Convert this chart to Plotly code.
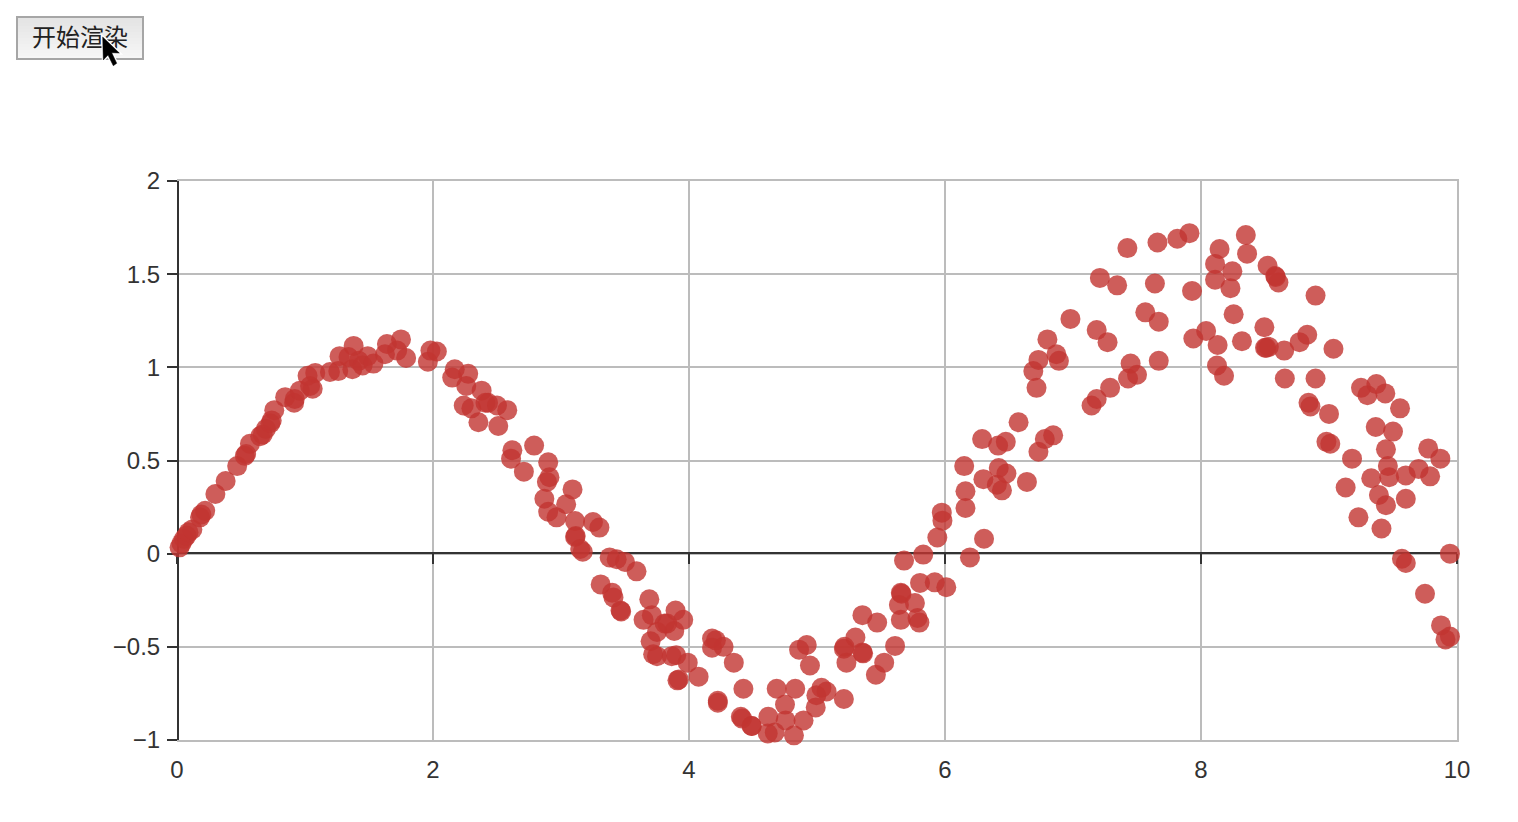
import plotly.graph_objects as go

x_values = [
 .02,.035,.055,.075,.09,.12,.18,.19,.22,.30,.38,.47,.53,.54,.57,.65,.67,.695,.73,.74,.76,.845,.915,.92,.96,1.04,1.06,1.02,1.08,1.195,1.26,1.27,1.34,1.38,1.37,1.42,1.49,1.45,1.535,1.64,1.625,1.72,1.75,1.79,1.96,1.98,2.03,2.17,2.15,2.275,2.26,2.38,2.24,2.30,2.43,2.41,2.50,2.58,2.51,2.355,2.62,2.61,2.71,2.79,2.90,2.91,2.89,2.87,3.09,3.04,2.90,2.965,3.11,3.115,3.11,3.25,3.30,3.17,3.15,3.38,
 3.435,3.50,3.59,3.31,3.40,3.41,3.465,3.47,3.69,3.645,3.71,3.895,3.955,3.81,3.83,3.885,3.75,3.70,3.72,3.75,3.865,3.90,3.99,3.91,3.92,4.075,4.18,4.21,4.27,4.18,4.35,4.225,4.225,4.425,4.405,4.415,4.49,4.49,4.62,4.615,4.67,4.755,4.685,4.83,4.75,4.895,4.82,4.99,4.995,5.035,5.075,5.21,4.86,4.92,4.945,5.215,5.21,5.30,5.36,5.355,5.23,5.355,5.47,5.61,5.525,5.46,5.655,5.66,5.64,5.765,5.655,5.785,5.80,5.805,5.92,6.01,5.68,5.83,5.94,6.195,
 5.975,5.98,6.305,6.16,6.16,6.15,6.29,6.30,6.42,6.48,6.405,6.445,6.415,6.475,6.575,6.64,6.73,6.78,6.845,6.715,6.69,6.73,6.80,6.87,6.89,6.98,7.145,7.185,7.29,7.43,7.50,7.45,7.67,7.185,7.27,7.565,7.67,
 7.425,7.66,7.815,7.91,7.21,7.345,7.64,7.93,8.35,8.145,8.36,8.11,8.245,8.11,8.23,8.52,8.58,8.585,8.605,8.895,8.255,8.495,8.04,7.94,8.13,8.32,8.51,8.50,8.53,8.65,8.77,8.83,9.035,8.125,8.18,8.655,8.895,8.84,8.855,9.00,8.98,9.01,
 9.25,9.30,9.37,9.44,9.555,9.365,9.50,9.445,9.46,9.47,9.33,9.60,9.70,9.775,9.87,9.79,9.13,9.18,9.39,9.445,9.60,9.23,9.41,9.57,9.60,9.945,9.75,9.875,9.91,9.945,
]
y_values = [
 .034,.055,.08,.097,.115,.13,.195,.21,.23,.32,.39,.47,.525,.535,.59,.63,.64,.67,.70,.715,.77,.84,.81,.83,.875,.90,.885,.955,.97,.975,.98,1.06,1.055,1.115,.99,1.035,1.06,1.01,1.02,1.125,1.07,1.09,1.15,1.05,1.03,1.09,1.085,.99,.945,.965,.90,.875,.795,.78,.81,.81,.795,.77,.685,.705,.555,.51,.44,.58,.49,.41,.385,.295,.345,.265,.225,.195,.175,.095,.09,.17,.14,.01,.025,-.02,
 -.03,-.045,-.095,-.165,-.21,-.235,-.305,-.31,-.245,-.355,-.33,-.305,-.355,-.375,-.375,-.415,-.42,-.47,-.54,-.55,-.55,-.545,-.585,-.68,-.675,-.66,-.455,-.465,-.50,-.505,-.585,-.79,-.80,-.725,-.875,-.885,-.925,-.925,-.875,-.965,-.96,-.895,-.725,-.725,-.81,-.895,-.975,-.825,-.76,-.72,-.74,-.78,-.515,-.49,-.60,-.50,-.51,-.45,-.535,-.53,-.585,-.33,-.37,-.495,-.585,-.65,-.21,-.215,-.275,-.265,-.355,-.345,-.37,-.157,-.154,-.18,-.037,-.005,.087,-.02,
 .22,.177,.08,.335,.245,.47,.615,.40,.46,.43,.37,.34,.58,.60,.705,.385,.547,.615,.635,.89,.98,1.04,1.15,1.07,1.035,1.26,.795,.83,.89,.94,.96,1.02,1.035,1.20,1.135,1.295,1.245,
 1.64,1.67,1.69,1.72,1.48,1.44,1.45,1.41,1.71,1.635,1.61,1.555,1.515,1.47,1.425,1.545,1.49,1.485,1.455,1.385,1.285,1.215,1.195,1.155,1.12,1.14,1.105,1.105,1.11,1.09,1.135,1.175,1.10,1.01,.955,.94,.94,.81,.79,.75,.60,.59,
 .89,.85,.91,.86,.78,.68,.655,.56,.47,.41,.405,.42,.455,.565,.51,.415,.355,.51,.315,.26,.295,.195,.135,-.027,-.05,0,-.215,-.385,-.46,-.445,
]
x_ticks = [0, 2, 4, 6, 8, 10]
y_ticks = [-1, -0.5, 0, 0.5, 1, 1.5, 2]
y_labels = ["−1", "−0.5", "0", "0.5", "1", "1.5", "2"]
button_label = "开始渲染"

W, H = 1518, 822
L, R, T, B = 177, 1457, 181, 740
ZERO_Y = 553
INK = "#333333"
GRID = "#bcbcbc"
FONT = "Liberation Sans, Arial, sans-serif"

fig = go.Figure()
fig.add_trace(go.Scatter(x=x_values, y=y_values, mode="markers", cliponaxis=False,
    marker=dict(size=20, color="#c23531", opacity=0.8, line=dict(width=0)), hoverinfo="skip"))
# empty traces so the axis drawn along y=0 and the right border axis exist
fig.add_trace(go.Scatter(x=[None], y=[None], xaxis="x2", yaxis="y", hoverinfo="skip"))
fig.add_trace(go.Scatter(x=[None], y=[None], xaxis="x", yaxis="y2", hoverinfo="skip"))
# full-canvas overlay subplot holding the button caption
fig.add_trace(go.Scatter(x=[80], y=[H - 40], text=[button_label], mode="text", xaxis="x3", yaxis="y3",
    textfont=dict(family="Noto Sans CJK SC", size=24, color="#222222"), hoverinfo="skip"))

def fx(p): return p / W
def fy(p): return 1 - p / H

shapes = []
# button gradient and border
top, bottom = (17, 59)
steps = 14
for i in range(steps):
    v = int(228 + (247 - 228) * i / (steps - 1))
    c = f"rgb({v},{v},{v})"
    shapes.append(dict(type="rect", xref="paper", yref="paper", layer="below",
        x0=fx(17), x1=fx(143), y0=fy(top + (bottom - top) * i / steps), y1=fy(top + (bottom - top) * (i + 1) / steps),
        fillcolor=c, line=dict(width=0)))
shapes.append(dict(type="rect", xref="paper", yref="paper", layer="below",
    x0=fx(17), x1=fx(143), y0=fy(17), y1=fy(59), line=dict(color="#a6a6a6", width=2)))
# mouse pointer: white halo, then black arrow
pts = [(102.7, 37), (103.3, 60), (108, 55), (113.3, 65.7), (116.7, 63.3), (111.7, 52.7), (119.3, 53)]
path = "M " + " L ".join(f"{fx(a):.5f} {fy(b):.5f}" for a, b in pts) + " Z"
shapes.append(dict(type="path", xref="paper", yref="paper", layer="above", path=path,
    fillcolor="#ffffff", line=dict(color="#ffffff", width=3)))
shapes.append(dict(type="path", xref="paper", yref="paper", layer="above", path=path,
    fillcolor="#000000", line=dict(color="#000000", width=0.5)))

fig.update_layout(
    width=W, height=H, margin=dict(l=0, r=0, t=0, b=0, pad=0, autoexpand=False), autosize=False,
    paper_bgcolor="white", plot_bgcolor="rgba(0,0,0,0)", showlegend=False,
    font=dict(family=FONT, size=24, color=INK), shapes=shapes,
    xaxis=dict(domain=[L / W, R / W], range=[0, 10], tickvals=x_ticks, showgrid=True, gridcolor=GRID, gridwidth=2,
               zeroline=False, showline=True, linecolor=GRID, linewidth=2, mirror=True, ticks="",
               ticklabelstandoff=7, anchor="y", layer="below traces"),
    yaxis=dict(domain=[1 - B / H, 1 - T / H], range=[-1, 2], tickvals=y_ticks, ticktext=y_labels, showgrid=True,
               gridcolor=GRID, gridwidth=2, zeroline=False, showline=True, linecolor=INK, linewidth=2,
               ticks="outside", ticklen=10, tickwidth=2, tickcolor=INK, anchor="free", position=(L + 1) / W,
               layer="below traces", ticklabelstandoff=2),
    yaxis2=dict(domain=[1 - B / H, 1 - T / H], range=[-1, 2], overlaying="y", side="right", anchor="x",
                showline=True, linecolor=GRID, linewidth=2, showgrid=False, zeroline=False, ticks="",
                showticklabels=False, layer="below traces"),
    xaxis2=dict(domain=[L / W, R / W], range=[0, 10], overlaying="x", anchor="free", position=1 - ZERO_Y / H,
                tickvals=x_ticks, showticklabels=False, showgrid=False, zeroline=False, showline=True,
                linecolor=INK, linewidth=2, ticks="outside", side="bottom", ticklen=10, tickwidth=2, tickcolor=INK,
                layer="below traces"),
    xaxis3=dict(domain=[0, 1], range=[0, W], visible=False, anchor="y3", fixedrange=True),
    yaxis3=dict(domain=[0, 1], range=[0, H], visible=False, anchor="x3", fixedrange=True),
)

fig.write_html("out.html", config=dict(displayModeBar=False),
               post_script="document.body.style.margin='0';document.body.style.overflow='hidden';")
